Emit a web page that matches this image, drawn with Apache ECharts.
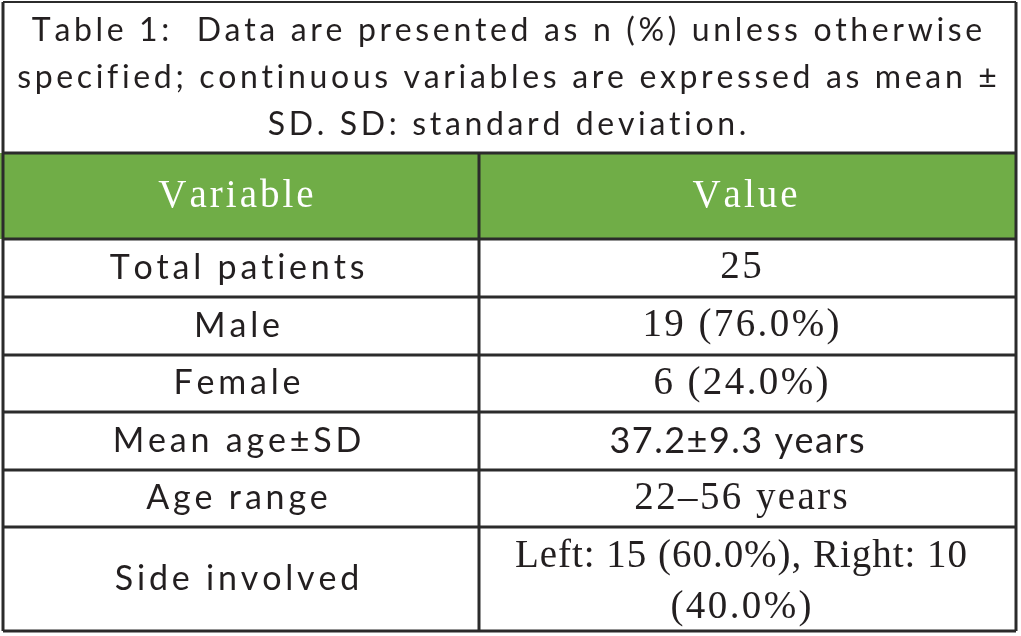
<!DOCTYPE html>
<html><head><meta charset="utf-8">
<script src="https://cdn.jsdelivr.net/npm/echarts@6/dist/echarts.min.js"></script>
<style>html,body{margin:0;padding:0;background:#fff;overflow:hidden}#c{width:1021px;height:636px;}</style>
</head><body><div id="c"></div>
<script>
// ---- data ----
const titleLines = [
  'Table 1:  Data are presented as n (%) unless otherwise',
  'specified; continuous variables are expressed as mean ±',
  'SD. SD: standard deviation.'
];
const headers = ['Variable', 'Value'];
const variables = ['Total patients', 'Male', 'Female', 'Mean age±SD', 'Age range', 'Side involved'];
const values = [
  ['25'],
  ['19 (76.0%)'],
  ['6 (24.0%)'],
  ['37.2±9.3 years'],
  ['22–56 years'],
  ['Left: 15 (60.0%), Right: 10', '(40.0%)']
];
const valueIsSans = [false, false, false, true, false, false];

// ---- layout / style ----
const W = 1021, H = 636;
const colX = [3, 479, 1016];
const edges = [2, 153, 239, 297, 355, 412, 470, 527, 631];
const INK = '#231f20', GREEN = '#70ad47', LINE = '#2b2b2b';
const ST = {
  title: {font: 'Lato', size: 32, sp: 3.65, lh: 47, cx: 507, dy: 0.5},
  label: {font: 'Lato', size: 34, sp: 3.8, cx: 237},
  head: {font: 'Liberation Serif', size: 39, sp: 3},
  val: {font: 'Liberation Serif', size: 39, sp: 2.4, lh: 51, cx: 741, dy: 3, maxW: 452},
  valSans: {font: 'Lato', size: 36, sp: 1.5, cx: 737}
};
const headCx = [236, 745];

const mctx = document.createElement('canvas').getContext('2d');
function spaced(text, p, st, color) {
  mctx.font = st.size + 'px "' + st.font + '"';
  const chars = Array.from(text);
  const ws = chars.map(c => mctx.measureText(c).width);
  const natural = ws.reduce((a, b) => a + b, 0);
  let sp = st.sp;
  if (st.maxW && natural + sp * (chars.length - 1) > st.maxW) {
    sp = (st.maxW - natural) / (chars.length - 1);
  }
  const total = natural + sp * (chars.length - 1);
  let x = p[0] - total / 2;
  const out = [];
  chars.forEach((c, i) => {
    if (c !== ' ') out.push({
      type: 'text', x: x, y: p[1],
      style: {text: c, fontSize: st.size, fontFamily: st.font, fill: color, align: 'left', verticalAlign: 'middle'}
    });
    x += ws[i] + sp;
  });
  return out;
}
function line(a, b, w) {
  return {type: 'line', shape: {x1: a[0], y1: a[1], x2: b[0], y2: b[1]}, style: {stroke: LINE, lineWidth: w}};
}

// items: 0 title, 1 header, 2.. rows
const items = [0, 1].concat(variables.map((v, i) => i + 2));

function renderItem(params, api) {
  const k = api.value(0);
  const y0 = edges[k], y1 = edges[k + 1];
  const c = (x, y) => api.coord([x, y]);
  const ch = [];
  if (k === 0) {
    ch.push(line(c(colX[0], y0), c(colX[2], y0), 2));
    ch.push(line(c(colX[0], y0), c(colX[0], y1), 3));
    ch.push(line(c(colX[2], y0), c(colX[2], y1), 3));
    const mid = (y0 + y1) / 2 + ST.title.dy;
    titleLines.forEach((t, i) => {
      const cy = mid + (i - (titleLines.length - 1) / 2) * ST.title.lh;
      ch.push(...spaced(t, c(ST.title.cx, cy), ST.title, INK));
    });
  } else if (k === 1) {
    const a = c(0, y0), b = c(colX[2], y1);
    ch.push({type: 'rect', shape: {x: a[0], y: a[1], width: b[0] - a[0], height: b[1] - a[1]}, style: {fill: GREEN}});
    ch.push(line(c(colX[0], y0), c(colX[2], y0), 3));
    ch.push(line(c(colX[0], y0), c(colX[0], y1), 3));
    ch.push(line(c(colX[1], y0), c(colX[1], y1), 3));
    ch.push(line(c(colX[2], y0), c(colX[2], y1), 3));
    headers.forEach((h, i) => ch.push(...spaced(h, c(headCx[i], (y0 + y1) / 2 + 1), ST.head, '#ffffff')));
  } else {
    const r = k - 2;
    ch.push(line(c(colX[0], y0), c(colX[2], y0), 3));
    ch.push(line(c(colX[0], y0), c(colX[0], y1), 3));
    ch.push(line(c(colX[1], y0), c(colX[1], y1), 3));
    ch.push(line(c(colX[2], y0), c(colX[2], y1), 3));
    if (r === variables.length - 1) ch.push(line(c(colX[0], y1), c(colX[2], y1), 3));
    const mid = (y0 + y1) / 2;
    ch.push(...spaced(variables[r], c(ST.label.cx, mid), ST.label, INK));
    const st = valueIsSans[r] ? ST.valSans : ST.val;
    const ls = values[r];
    const vmid = ls.length > 1 ? mid + ST.val.dy : mid;
    ls.forEach((t, i) => {
      const cy = vmid + (i - (ls.length - 1) / 2) * ST.val.lh;
      ch.push(...spaced(t, c(st.cx, cy), st, INK));
    });
  }
  return {type: 'group', children: ch};
}

const chart = echarts.init(document.getElementById('c'), null, {renderer: 'canvas'});
chart.setOption({
  animation: false,
  grid: {left: 0, right: 0, top: 0, bottom: 0},
  xAxis: {type: 'value', min: 0, max: W, show: false},
  yAxis: {type: 'value', min: 0, max: H, inverse: true, show: false},
  series: [{
    type: 'custom',
    coordinateSystem: 'cartesian2d',
    data: items.map(k => [k]),
    encode: {x: -1, y: -1},
    renderItem: renderItem,
    clip: false,
    silent: true
  }]
});
</script></body></html>
